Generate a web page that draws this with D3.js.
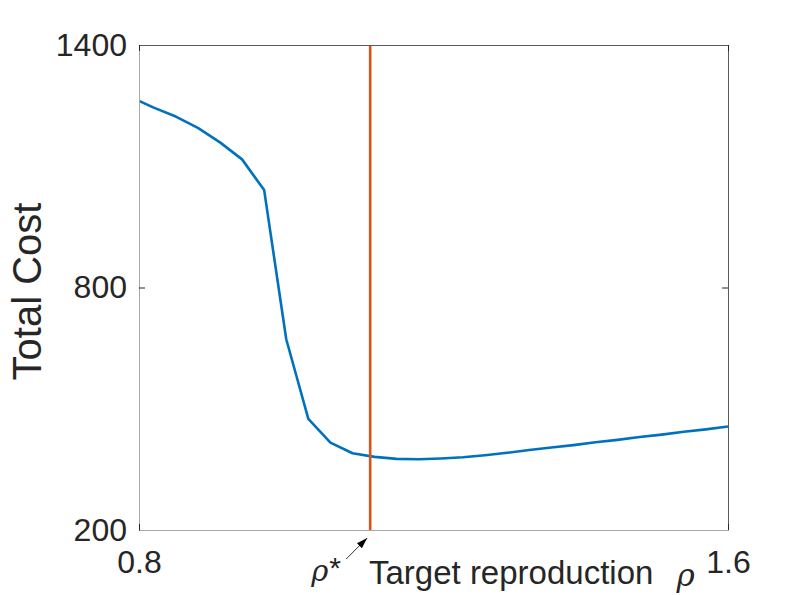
<!DOCTYPE html>
<html>
<head>
<meta charset="utf-8">
<script src="https://cdn.jsdelivr.net/npm/d3@7"></script>
<style>
  body { margin: 0; background: #fff; }
  svg { display: block; }
  text { font-family: "Liberation Sans", Arial, sans-serif; fill: #262626; }
</style>
</head>
<body>
<svg id="chart" width="805" height="595"></svg>
<script>
// ---- data ----
const rho = [0.79, 0.82, 0.85, 0.88, 0.91, 0.94, 0.97, 1.00, 1.03, 1.06, 1.09, 1.12, 1.15, 1.18,
             1.21, 1.24, 1.27, 1.30, 1.33, 1.36, 1.39, 1.42, 1.45, 1.48, 1.51, 1.54, 1.57, 1.60];
const totalCost = [1270, 1245, 1223, 1195, 1159, 1117, 1041, 672, 475, 416, 390, 381, 376, 375,
                   377, 380, 385, 391, 398, 404, 410, 417, 423, 430, 436, 443, 449, 456];
const rhoStar = 1.114;
const xTicks = [0.8, 1.6];
const yTicks = [200, 800, 1400];
const xDomain = [0.8, 1.6];
const yDomain = [200, 1400];

// ---- layout ----
const svg = d3.select("#chart");
const m = { left: 139, top: 45 };
const W = 589, H = 485;
const g = svg.append("g").attr("transform", `translate(${m.left},${m.top})`);

const x = d3.scaleLinear().domain(xDomain).range([0, W]);
const y = d3.scaleLinear().domain(yDomain).range([H, 0]);

svg.append("defs").append("clipPath").attr("id", "clip")
  .append("rect").attr("x", 0).attr("y", 0).attr("width", W).attr("height", H);

// ---- data marks ----
const line = d3.line().x((d, i) => x(rho[i])).y(d => y(d));
g.append("path")
  .datum(totalCost)
  .attr("clip-path", "url(#clip)")
  .attr("fill", "none")
  .attr("stroke", "#0072BD")
  .attr("stroke-width", 2.6)
  .attr("stroke-linejoin", "round")
  .attr("d", line);

g.append("line")
  .attr("x1", x(rhoStar)).attr("x2", x(rhoStar))
  .attr("y1", y(yDomain[0])).attr("y2", y(yDomain[1]))
  .attr("stroke", "#D95319").attr("stroke-width", 2.6);

// ---- axes ----
function styleAxis(sel, domainColor) {
  sel.select(".domain").attr("stroke", domainColor).attr("stroke-width", 1);
  sel.selectAll(".tick line").attr("stroke", "#262626").attr("stroke-width", 1);
  sel.selectAll(".tick text").style("font-size", "32px").attr("fill", "#262626")
     .style("font-family", '"Liberation Sans", Arial, sans-serif');
}

const yAxisL = g.append("g")
  .call(d3.axisLeft(y).tickValues(yTicks).tickSizeInner(-6).tickSizeOuter(0).tickPadding(12).tickFormat(d3.format("d")));
styleAxis(yAxisL, "#a8a8a8");

const yAxisR = g.append("g").attr("transform", `translate(${W},0)`)
  .call(d3.axisRight(y).tickValues(yTicks).tickSizeInner(-6).tickSizeOuter(0).tickFormat(""));
styleAxis(yAxisR, "#5a5a5a");

const xAxisB = g.append("g").attr("transform", `translate(0,${H})`)
  .call(d3.axisBottom(x).tickValues(xTicks).tickSizeInner(-6).tickSizeOuter(0).tickPadding(20).tickFormat(d3.format(".1f")));
styleAxis(xAxisB, "#a8a8a8");

const xAxisT = g.append("g")
  .call(d3.axisTop(x).tickValues(xTicks).tickSizeInner(-6).tickSizeOuter(0).tickFormat(""));
styleAxis(xAxisT, "#5a5a5a");

// ---- labels ----
g.append("text")
  .attr("transform", `translate(${27 - m.left},${H / 2 + 4}) rotate(-90)`)
  .attr("text-anchor", "middle")
  .attr("dy", "0.36em")
  .style("font-size", "40px")
  .text("Total Cost");

const xl = g.append("text")
  .attr("x", 369 - m.left).attr("y", 584 - m.top)
  .style("font-size", "33px");
xl.append("tspan").text("Target reproduction ");
xl.append("tspan").style("font-style", "italic").style("font-family", '"DejaVu Serif", serif').style("font-size", "31px").attr("dx", 14).attr("dy", 2).text("ρ");

// rho* annotation with arrow
const ann = g.append("text")
  .attr("x", x(rhoStar) - 59).attr("y", H + 51)
  .style("font-size", "29px");
ann.append("tspan").style("font-style", "italic").style("font-family", '"DejaVu Serif", serif').text("ρ");
ann.append("tspan").attr("dx", 1).attr("dy", -3).style("font-size", "30px").text("*");

svg.select("defs").append("marker")
  .attr("id", "arrowhead").attr("viewBox", "0 0 10 10")
  .attr("refX", 10).attr("refY", 5)
  .attr("markerWidth", 11).attr("markerHeight", 11)
  .attr("markerUnits", "userSpaceOnUse")
  .attr("orient", "auto")
  .append("path").attr("d", "M0,1.8 L10,5 L0,8.2 Z").attr("fill", "#000");

g.append("line")
  .attr("x1", x(rhoStar) - 24).attr("y1", H + 29)
  .attr("x2", x(rhoStar) - 3).attr("y2", H + 8)
  .attr("stroke", "#000").attr("stroke-width", 0.8)
  .attr("marker-end", "url(#arrowhead)");
</script>
</body>
</html>
